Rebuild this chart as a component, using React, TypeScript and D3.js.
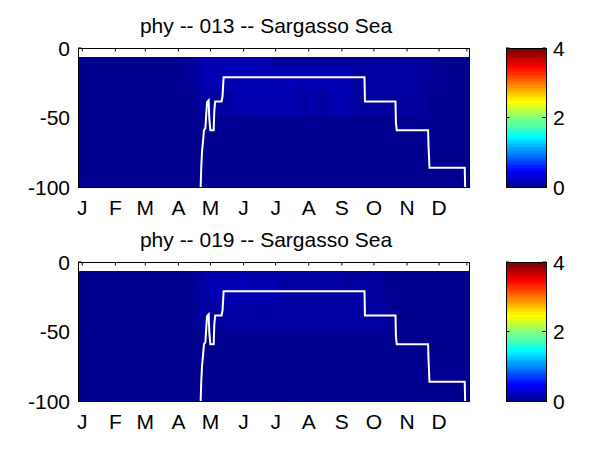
import React from 'react';
import * as d3 from 'd3';

// ---------- data ----------
const monthLabels = ['J', 'F', 'M', 'A', 'M', 'J', 'J', 'A', 'S', 'O', 'N', 'D'];
const monthTickDays = [1, 32, 60, 91, 121, 152, 182, 213, 244, 274, 305, 335];
const extraTickDays = [361];
const depthTicks = [0, -50, -100];
const colorTicks = [0, 2, 4];

const dayDomain: [number, number] = [-3, 363];
const depthDomain: [number, number] = [0, -100];
const colorDomain: [number, number] = [0, 4];

// depth layers of the field (m)
const rowTops = [-6.25, -13.75, -21.25, -30, -49];
const rowBottoms = [-13.75, -21.25, -30, -49, -100];
const backgroundValue = 0.003;

// patches: [row, startDay, endDay, value]
const patches013: [number, number, number, number][] = [
  [0, 95.6, 103.4, 0.03], [0, 103.4, 112.8, 0.06], [0, 112.8, 176.7, 0.13], [0, 176.7, 331.2, 0.06],
  [1, 95.6, 103.4, 0.03], [1, 103.4, 112.8, 0.07], [1, 112.8, 253.2, 0.15], [1, 253.2, 315.5, 0.07], [1, 315.5, 331.2, 0.04],
  [2, 95.6, 103.4, 0.03], [2, 103.4, 112.8, 0.07], [2, 112.8, 253.2, 0.15], [2, 253.2, 315.5, 0.07], [2, 315.5, 331.2, 0.04],
  [3, 108.1, 142.4, 0.07], [3, 142.4, 201.7, 0.13], [3, 201.7, 211, 0.07], [3, 211, 218.8, 0.13],
  [3, 218.8, 231.3, 0.07], [3, 231.3, 251.6, 0.13], [3, 251.6, 315.5, 0.06], [3, 315.5, 323.4, 0.05],
];

const patches019: [number, number, number, number][] = [
  [0, 106.5, 115.9, 0.05], [0, 115.9, 158, 0.12], [0, 158, 245.4, 0.08], [0, 245.4, 265.7, 0.04], [0, 265.7, 282.8, 0.06],
  [1, 106.5, 119, 0.06], [1, 119, 184.5, 0.15], [1, 184.5, 276.6, 0.07], [1, 276.6, 284.4, 0.04],
  [2, 106.5, 120.6, 0.06], [2, 120.6, 184.5, 0.13], [2, 184.5, 276.6, 0.07], [2, 276.6, 284.4, 0.05],
  [3, 108.1, 169, 0.07], [3, 169, 173.6, 0.1], [3, 173.6, 286, 0.07],
];

// mixed layer depth (white line)
const mldDays = [111.8, 112.4, 113.1, 114.0, 114.9, 116.2, 116.8, 117.8, 119.3, 119.9, 120.9, 124.0, 124.6, 125.4,
  131.4, 132.3, 133.3, 265.2, 265.6, 294.2, 294.6, 295.4, 324.7, 325.1, 326.0, 359.0, 359.4];
const mldDepths = [-100, -85.4, -74.7, -67.5, -59.1, -57.9, -50.8, -38.9, -37.6, -50.5, -59.1, -59.1, -45, -38.4,
  -38.4, -34.8, -21, -21, -38.4, -38.4, -53.9, -59.1, -59.1, -69.9, -86.1, -86.1, -100];

const panels = [
  { title: 'phy -- 013 -- Sargasso Sea', patches: patches013 },
  { title: 'phy -- 019 -- Sargasso Sea', patches: patches019 },
];

// ---------- layout ----------
const W = 600;
const H = 450;
const plotLeft = 78;
const plotRight = 469;
const panelTops = [48, 262];
const panelHeight = 139;
const cbLeft = 506;
const cbRight = 546;
const FONT = '"Liberation Sans", Arial, Helvetica, sans-serif';
const FS = 21;

function jet(x: number): string {
  const c = (v: number) => Math.max(0, Math.min(1, v));
  const r = c(Math.min(4 * x - 1.5, -4 * x + 4.5));
  const g = c(Math.min(4 * x - 0.5, -4 * x + 3.5));
  const b = c(Math.min(4 * x + 0.5, -4 * x + 2.5));
  return d3.rgb(Math.round(r * 255), Math.round(g * 255), Math.round(b * 255)).toString();
}

function Panel({ idx }: { idx: number }) {
  const p = panels[idx];
  const top = panelTops[idx];
  const bottom = top + panelHeight;
  const x = d3.scaleLinear().domain(dayDomain).range([plotLeft, plotRight]);
  const y = d3.scaleLinear().domain(depthDomain).range([top, bottom]);
  const c = d3.scaleLinear().domain(colorDomain).range([1 / 64, 1]).clamp(true);
  const cy = d3.scaleLinear().domain(colorDomain).range([bottom, top]);
  const line = d3.line<number>().x((_, i) => x(mldDays[i])).y((_, i) => y(mldDepths[i]));
  const clipId = `clip${idx}`;
  const bands = d3.range(64);
  const tickLen = 3.5;

  return (
    <g>
      <defs>
        <clipPath id={clipId}>
          <rect x={plotLeft} y={top} width={plotRight - plotLeft} height={panelHeight} />
        </clipPath>
      </defs>
      <text x={266} y={top - 15.5} fontFamily={FONT} fontSize={FS} textAnchor="middle">{p.title}</text>
      <rect x={plotLeft} y={top} width={plotRight - plotLeft} height={panelHeight} fill="#fff" />
      {monthTickDays.concat(extraTickDays).map((d, i) => (
        <g key={'xt' + i}>
          <line x1={x(d)} x2={x(d)} y1={top} y2={top + tickLen} stroke="#000" />
          <line x1={x(d)} x2={x(d)} y1={bottom} y2={bottom - tickLen} stroke="#000" />
        </g>
      ))}
      {depthTicks.map((d, i) => (
        <line key={'yt' + i} x1={plotLeft} x2={plotLeft + tickLen} y1={y(d)} y2={y(d)} stroke="#000" />
      ))}
      <g clipPath={`url(#${clipId})`}>
        {rowTops.map((t, r) => (
          <rect key={'bg' + r} x={x(dayDomain[0])} width={x(dayDomain[1]) - x(dayDomain[0])}
            y={y(t)} height={y(rowBottoms[r]) - y(t)} fill={jet(c(backgroundValue))} shapeRendering="crispEdges" />
        ))}
        {p.patches.map(([r, s, e, v], i) => (
          <rect key={'pa' + i} x={x(s)} width={x(e) - x(s)} y={y(rowTops[r])}
            height={y(rowBottoms[r]) - y(rowTops[r])} fill={jet(c(v))} shapeRendering="crispEdges" />
        ))}
        <path d={line(mldDays) || ''} fill="none" stroke="#fff" strokeWidth={2} />
      </g>
      <rect x={plotLeft} y={top} width={plotRight - plotLeft} height={panelHeight} fill="none" stroke="#000" strokeWidth={1} shapeRendering="crispEdges" />
      {monthTickDays.map((d, i) => (
        <text key={'xl' + i} x={x(d)} y={bottom + 28} fontFamily={FONT} fontSize={FS} textAnchor="middle">{monthLabels[i]}</text>
      ))}
      {depthTicks.map((d, i) => (
        <text key={'yl' + i} x={70} y={y(d) + 7.5} fontFamily={FONT} fontSize={FS} textAnchor="end">{d}</text>
      ))}
      {bands.map((b) => {
        const v0 = (b / 64) * colorDomain[1];
        const v1 = ((b + 1) / 64) * colorDomain[1];
        return (
          <rect key={'cb' + b} x={cbLeft} width={cbRight - cbLeft} y={cy(v1)} height={cy(v0) - cy(v1) + 0.5}
            fill={jet((b + 1) / 64)} shapeRendering="crispEdges" />
        );
      })}
      <rect x={cbLeft} y={top} width={cbRight - cbLeft} height={panelHeight} fill="none" stroke="#000" shapeRendering="crispEdges" />
      {colorTicks.map((t, i) => (
        <g key={'ct' + i}>
          <line x1={cbRight} x2={cbRight - tickLen} y1={cy(t)} y2={cy(t)} stroke="#000" />
          <line x1={cbLeft} x2={cbLeft + tickLen} y1={cy(t)} y2={cy(t)} stroke="#000" />
          <text x={553} y={cy(t) + 7.5} fontFamily={FONT} fontSize={FS}>{t}</text>
        </g>
      ))}
    </g>
  );
}

export default function App() {
  return (
    <svg width={W} height={H} style={{ position: 'absolute', left: 0, top: 0, background: '#fff' }}>
      <rect x={0} y={0} width={W} height={H} fill="#fff" />
      <Panel idx={0} />
      <Panel idx={1} />
    </svg>
  );
}
